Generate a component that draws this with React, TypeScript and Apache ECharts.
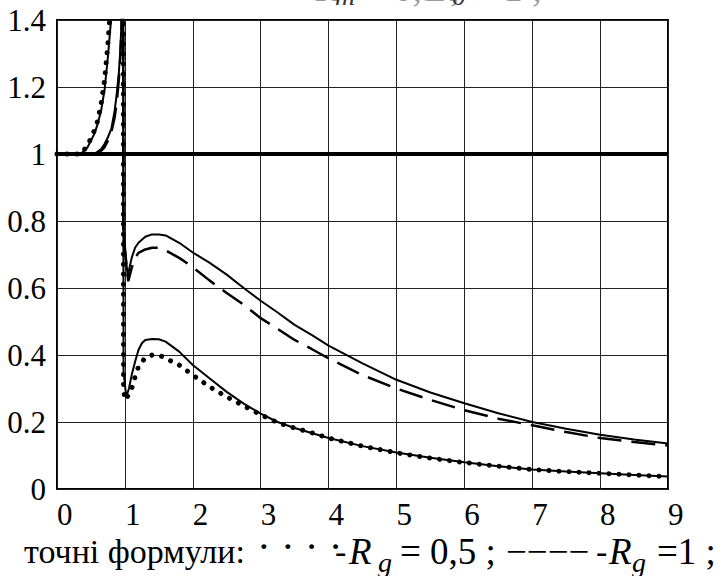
import React, { useEffect, useRef } from "react";
import * as echarts from "echarts";

// Rg = 0.5, approximate formula (solid line)
const xSolid05 = [0, 0.35, 0.45, 0.55, 0.6, 0.65, 0.7, 0.75, 0.8, 0.85, 0.9, 0.93, 0.965, 0.98, 1.02, 1.06, 1.1, 1.15, 1.2, 1.25, 1.3, 1.4, 1.5, 1.6, 1.8, 2.0, 2.25, 2.5, 2.75, 3.0, 3.25, 3.5, 3.75, 4.0, 4.5, 5.0, 5.5, 6.0, 6.5, 7.0, 7.5, 8.0, 8.5, 9.0];
const ySolid05 = [1, 1, 1.02, 1.06, 1.09, 1.13, 1.19, 1.29, 1.41, 1.7, 2.3, 3, 4, 0.35, 0.275, 0.3, 0.34, 0.38, 0.415, 0.435, 0.445, 0.448, 0.447, 0.44, 0.41, 0.37, 0.33, 0.29, 0.255, 0.225, 0.2, 0.182, 0.167, 0.152, 0.128, 0.109, 0.093, 0.08, 0.068, 0.058, 0.052, 0.047, 0.042, 0.037];

// Rg = 0.5, exact formulas (dotted)
const xDot05 = [0, 0.35, 0.45, 0.55, 0.6, 0.65, 0.7, 0.75, 0.8, 0.85, 0.9, 0.93, 0.97, 0.98, 1.0, 1.05, 1.1, 1.15, 1.2, 1.3, 1.4, 1.5, 1.6, 1.8, 2.0, 2.25, 2.5, 2.75, 3.0, 3.25, 3.5, 3.75, 4.0, 4.5, 5.0, 5.5, 6.0, 6.5, 7.0, 7.5, 8.0, 8.5, 9.0];
const yDot05 = [1, 1, 1.025, 1.07, 1.1, 1.15, 1.22, 1.33, 1.47, 1.8, 2.4, 4, 4, 0.3, 0.266, 0.28, 0.3, 0.335, 0.365, 0.392, 0.4, 0.4, 0.39, 0.37, 0.34, 0.305, 0.275, 0.248, 0.222, 0.198, 0.182, 0.168, 0.152, 0.128, 0.108, 0.092, 0.079, 0.068, 0.058, 0.052, 0.047, 0.042, 0.037];

// Rg = 1, approximate formula (solid line)
const xSolid1 = [0, 0.55, 0.65, 0.7, 0.75, 0.8, 0.85, 0.88, 0.91, 0.93, 0.95, 0.96, 0.968, 0.978, 1.04, 1.1, 1.15, 1.2, 1.3, 1.4, 1.5, 1.6, 1.8, 2.0, 2.25, 2.5, 2.75, 3.0, 3.25, 3.5, 3.75, 4.0, 4.5, 5.0, 5.5, 6.0, 6.5, 7.0, 7.5, 8.0, 8.5, 9.0];
const ySolid1 = [1, 1, 1.015, 1.03, 1.05, 1.075, 1.13, 1.18, 1.24, 1.3, 1.39, 1.6, 4, 0.78, 0.635, 0.69, 0.72, 0.735, 0.753, 0.76, 0.76, 0.757, 0.735, 0.706, 0.675, 0.64, 0.6, 0.562, 0.527, 0.49, 0.46, 0.428, 0.375, 0.326, 0.288, 0.256, 0.226, 0.2, 0.18, 0.162, 0.148, 0.136];

// Rg = 1, exact formulas (dashed)
const xDash1 = [0, 0.6, 0.7, 0.75, 0.8, 0.85, 0.88, 0.91, 0.93, 0.95, 0.96, 0.968, 0.978, 1.05, 1.1, 1.15, 1.2, 1.3, 1.4, 1.5, 1.6, 1.8, 2.0, 2.25, 2.5, 2.75, 3.0, 3.25, 3.5, 3.75, 4.0, 4.5, 5.0, 5.5, 6.0, 6.5, 7.0, 7.5, 8.0, 8.5, 9.0];
const yDash1 = [1, 1, 1.02, 1.04, 1.065, 1.11, 1.155, 1.22, 1.28, 1.37, 1.6, 4, 0.75, 0.62, 0.66, 0.69, 0.705, 0.715, 0.72, 0.72, 0.712, 0.69, 0.662, 0.622, 0.585, 0.55, 0.51, 0.478, 0.445, 0.418, 0.39, 0.34, 0.3, 0.266, 0.235, 0.21, 0.19, 0.17, 0.152, 0.14, 0.13];

// horizontal level
const xLevel = [0, 9];
const yLevel = [1, 1];

// legend pieces: [text, left, kind]
const legendPieces: [string, number, string][] = [
  ["точні формули:", 24, "n"],
  ["· · · ·", 257, "d"],
  ["-", 335, "n"],
  ["R", 349, "i"],
  ["g", 378, "s"],
  ["= 0,5 ;", 400, "e"],
  ["−−−−", 506, "e"],
  ["-", 596, "n"],
  ["R", 609, "i"],
  ["g", 632, "s"],
  ["=1 ;", 657, "e"],
];

// partly hidden heading at the top edge
const titlePieces: [string, number, string][] = [
  ["R", 316, "i"],
  ["m", 335, "s"],
  ["= 0,5 ;", 364, "e"],
  ["R", 434, "i"],
  ["0", 452, "s"],
  ["= 1 ;", 474, "e"],
];

const FONT = "Liberation Serif";

function pairs(xs: number[], ys: number[]) {
  return xs.map((x, i) => [x, ys[i]]);
}

function pieceStyle(kind: string, color: string, subColor: string) {
  if (kind === "i") return { fontFamily: FONT, fontSize: 37, fontStyle: "italic", fill: color };
  if (kind === "s") return { fontFamily: FONT, fontSize: 28, fontStyle: "italic", fill: subColor };
  if (kind === "e") return { fontFamily: FONT, fontSize: 37, fill: color };
  if (kind === "d") return { fontFamily: FONT, fontSize: 41, fill: color };
  return { fontFamily: FONT, fontSize: 34, fill: color };
}

function pieceDy(kind: string) {
  if (kind === "s") return 11;
  if (kind === "d") return -5;
  return 0;
}

export default function App() {
  const ref = useRef<HTMLDivElement>(null);
  useEffect(() => {
    if (!ref.current) return;
    const chart = echarts.init(ref.current, null, { renderer: "svg" });
    const legendBase = 551;
    const titleBase = -12;
    const graphics = [
      ...legendPieces.map(([t, x, k]) => ({
        type: "text",
        x,
        y: legendBase + pieceDy(k),
        style: { ...pieceStyle(k, "#000", "#000"), text: t, verticalAlign: "middle", align: "left" },
      })),
      ...titlePieces.map(([t, x, k]) => ({
        type: "text",
        x,
        y: titleBase + (k === "s" ? 7 : 0),
        style: { ...pieceStyle(k, "#999", "#333"), text: t, verticalAlign: "middle", align: "left" },
      })),
    ];
    chart.setOption({
      animation: false,
      textStyle: { fontFamily: FONT },
      grid: {
        left: 57,
        right: 50,
        top: 20,
        bottom: 87,
        show: true,
        borderColor: "#000",
        borderWidth: 2,
        backgroundColor: "transparent",
      },
      xAxis: {
        type: "value",
        min: 0,
        max: 9,
        interval: 1,
        axisLine: { show: false },
        axisTick: { show: false },
        splitLine: { show: true, lineStyle: { color: "#222", width: 1 } },
        axisLabel: { fontFamily: FONT, fontSize: 31, color: "#000", align: "left", margin: 10, showMaxLabel: true, showMinLabel: true },
      },
      yAxis: {
        type: "value",
        min: 0,
        max: 1.4,
        interval: 0.2,
        axisLine: { show: false },
        axisTick: { show: false },
        splitLine: { show: true, lineStyle: { color: "#222", width: 1 } },
        axisLabel: { fontFamily: FONT, fontSize: 31, color: "#000", margin: 11 },
      },
      graphic: graphics,
      series: [
        {
          type: "line",
          data: pairs(xSolid05, ySolid05),
          showSymbol: false,
          lineStyle: { color: "#000", width: 2 },
          z: 3,
        },
        {
          type: "line",
          data: pairs(xDot05, yDot05),
          showSymbol: false,
          lineStyle: { color: "#000", width: 5, type: [0.01, 10], cap: "round" },
          z: 4,
        },
        {
          type: "line",
          data: pairs(xSolid1, ySolid1),
          showSymbol: false,
          lineStyle: { color: "#000", width: 2 },
          z: 3,
        },
        {
          type: "line",
          data: pairs(xDash1, yDash1),
          showSymbol: false,
          lineStyle: { color: "#000", width: 2.5, type: [24, 10] },
          z: 3,
        },
        {
          type: "line",
          data: pairs(xLevel, yLevel),
          showSymbol: false,
          lineStyle: { color: "#000", width: 4 },
          z: 5,
        },
      ],
    });
    return () => chart.dispose();
  }, []);
  return (
    <>
      <style>{`svg text, svg tspan { font-family: "Liberation Serif", "Times New Roman", serif !important; }`}</style>
      <div
        ref={ref}
        style={{ width: 718, height: 576, position: "absolute", left: 0, top: 0, background: "#fff", fontFamily: FONT }}
      />
    </>
  );
}
